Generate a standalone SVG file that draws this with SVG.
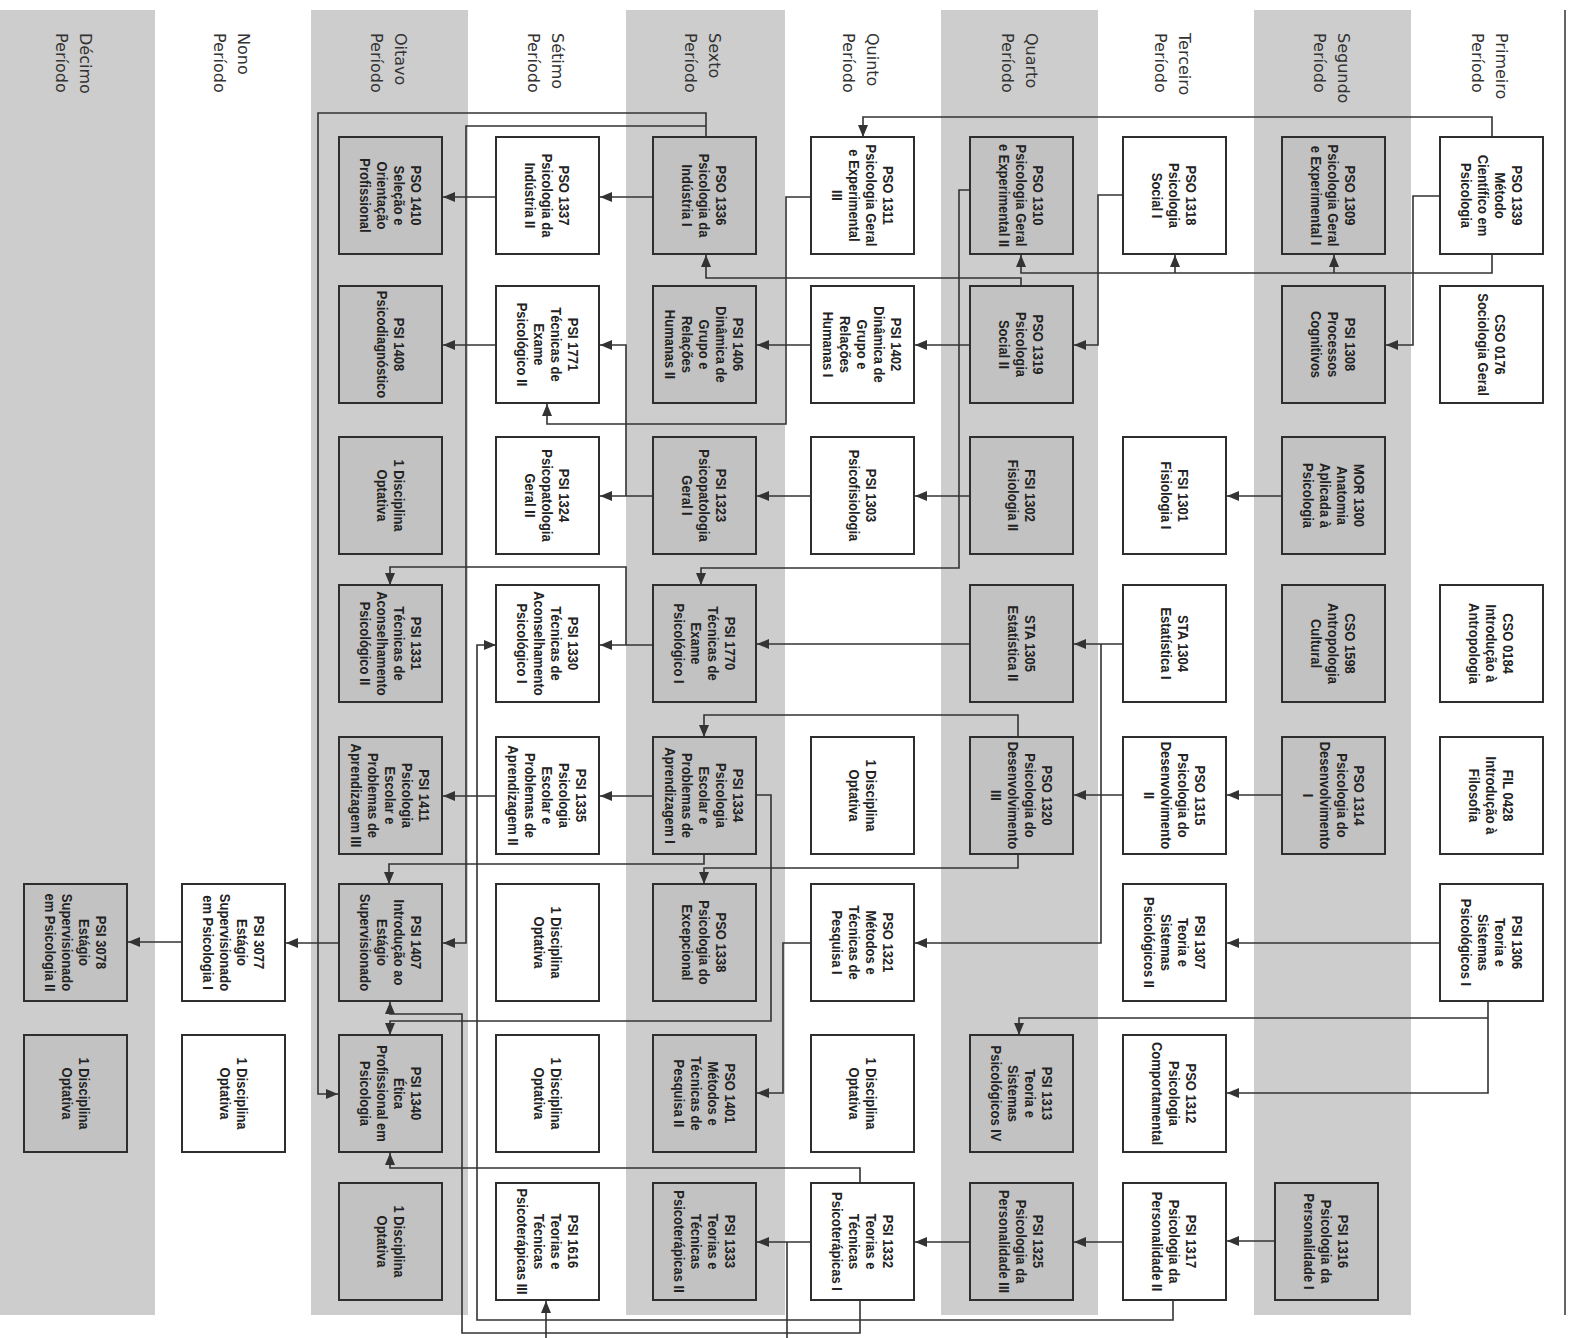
<svg xmlns="http://www.w3.org/2000/svg" width="1576" height="1338" viewBox="0 0 1576 1338">
<style>
.band{fill:#cdcdcd}
.bw{fill:#ffffff;stroke:#2e2e2e;stroke-width:2}
.bg{fill:#c2c2c2;stroke:#2e2e2e;stroke-width:2}
.t{font-family:"Liberation Sans",Arial,sans-serif;font-weight:bold;font-size:15px;fill:#222;text-anchor:middle;dominant-baseline:central}
.h{font-family:"DejaVu Sans","Liberation Sans",sans-serif;font-size:16px;fill:#333;dominant-baseline:central}
.c{fill:none;stroke:#333;stroke-width:1.6}
.a{marker-end:url(#arr)}
</style>
<defs>
<marker id="arr" markerUnits="userSpaceOnUse" markerWidth="12" markerHeight="10" refX="12" refY="5" orient="auto">
<path d="M0,0 L12,5 L0,10 z" fill="#333"/>
</marker>
</defs>
<rect x="0" y="0" width="1576" height="1338" fill="#ffffff"/>
<g id="bands">
<rect class="band" x="1254" y="10" width="157" height="1305"/>
<rect class="band" x="941" y="10" width="157" height="1305"/>
<rect class="band" x="626" y="10" width="159" height="1305"/>
<rect class="band" x="311" y="10" width="157" height="1305"/>
<rect class="band" x="0" y="10" width="155" height="1305"/>
<line x1="1565" y1="10" x2="1565" y2="1315" stroke="#333" stroke-width="1.5"/>
</g>
<g id="headers">
<text class="h" transform="translate(1491.5,33) rotate(90)"><tspan x="0" y="-10">Primeiro</tspan><tspan x="0" y="14">Período</tspan></text>
<text class="h" transform="translate(1333.5,33) rotate(90)"><tspan x="0" y="-10">Segundo</tspan><tspan x="0" y="14">Período</tspan></text>
<text class="h" transform="translate(1174.5,33) rotate(90)"><tspan x="0" y="-10">Terceiro</tspan><tspan x="0" y="14">Período</tspan></text>
<text class="h" transform="translate(1021.5,33) rotate(90)"><tspan x="0" y="-10">Quarto</tspan><tspan x="0" y="14">Período</tspan></text>
<text class="h" transform="translate(862.5,33) rotate(90)"><tspan x="0" y="-10">Quinto</tspan><tspan x="0" y="14">Período</tspan></text>
<text class="h" transform="translate(704.5,33) rotate(90)"><tspan x="0" y="-10">Sexto</tspan><tspan x="0" y="14">Período</tspan></text>
<text class="h" transform="translate(547.5,33) rotate(90)"><tspan x="0" y="-10">Sétimo</tspan><tspan x="0" y="14">Período</tspan></text>
<text class="h" transform="translate(390.5,33) rotate(90)"><tspan x="0" y="-10">Oitavo</tspan><tspan x="0" y="14">Período</tspan></text>
<text class="h" transform="translate(233.5,33) rotate(90)"><tspan x="0" y="-10">Nono</tspan><tspan x="0" y="14">Período</tspan></text>
<text class="h" transform="translate(75.5,33) rotate(90)"><tspan x="0" y="-10">Décimo</tspan><tspan x="0" y="14">Período</tspan></text>
</g>
<g id="connectors">
<path class="c a" d="M1492,137 V117 H863 V137"/>
<path class="c a" d="M1492,254 V273 H1021 V255"/>
<path class="c a" d="M1334,273 V255"/>
<path class="c a" d="M1175,273 V255"/>
<path class="c a" d="M1440,196 H1413 V345 H1386"/>
<path class="c a" d="M1123,195 H1098 V345 H1074"/>
<path class="c a" d="M970,190 H959 V568 H701 V585"/>
<path class="c a" d="M1021,286 V278 H706 V255"/>
<path class="c a" d="M970,345 H915"/>
<path class="c a" d="M811,345 H757"/>
<path class="c a" d="M811,197 H786 V424 H547 V404"/>
<path class="c a" d="M653,197 H600"/>
<path class="c a" d="M496,197 H443"/>
<path class="c a" d="M706,137 V113 H318 V1094 H338"/>
<path class="c a" d="M706,126 H466 V943 H443"/>
<path class="c a" d="M496,345 H443"/>
<path class="c a" d="M1282,496 H1227"/>
<path class="c a" d="M970,496 H915"/>
<path class="c a" d="M811,496 H757"/>
<path class="c a" d="M653,496 H600"/>
<path class="c a" d="M626,496 V345 H600"/>
<path class="c a" d="M1123,644 H1074"/>
<path class="c a" d="M1101,644 V943 H915"/>
<path class="c a" d="M970,644 H757"/>
<path class="c a" d="M653,645 H600"/>
<path class="c a" d="M626,645 V567 H390 V585"/>
<path class="c a" d="M1282,795 H1227"/>
<path class="c a" d="M1123,795 H1074"/>
<path class="c a" d="M1018,737 V715 H704 V737"/>
<path class="c a" d="M1018,854 V868 H704 V884"/>
<path class="c a" d="M653,796 H600"/>
<path class="c a" d="M496,796 H443"/>
<path class="c a" d="M704,854 V864 H389 V884"/>
<path class="c a" d="M757,795 H771 V1021 H390 V1035"/>
<path class="c a" d="M811,943 H783 V1093 H757"/>
<path class="c a" d="M339,943 H286"/>
<path class="c a" d="M182,942 H128"/>
<path class="c a" d="M1440,943 H1227"/>
<path class="c a" d="M1488,1001 V1093 H1227"/>
<path class="c a" d="M1488,1018 H1019 V1035"/>
<path class="c a" d="M1275,1241 H1227"/>
<path class="c a" d="M1123,1242 H1074"/>
<path class="c a" d="M970,1242 H915"/>
<path class="c a" d="M811,1242 H757"/>
<path class="c" d="M787,1242 V1338"/>
<path class="c a" d="M860,1183 V1168 H390 V1153"/>
<path class="c a" d="M860,1300 V1333 H462 V1014 H390 V1002"/>
<path class="c a" d="M1173,1300 V1320 H477 V645 H496"/>
<path class="c a" d="M546,1338 V1301"/>
</g>
<g id="nodes">
<g id="pso1339"><rect class="bw" x="1440" y="137" width="103" height="117"/><text class="t" transform="translate(1491.5,195.5) rotate(90) scale(0.867,1)"><tspan x="0" y="-25.5">PSO 1339</tspan><tspan x="0" y="-8.5">Método</tspan><tspan x="0" y="8.5">Científico em</tspan><tspan x="0" y="25.5">Psicologia</tspan></text></g>
<g id="pso1309"><rect class="bg" x="1282" y="137" width="103" height="117"/><text class="t" transform="translate(1333.5,195.5) rotate(90) scale(0.867,1)"><tspan x="0" y="-17">PSO 1309</tspan><tspan x="0" y="0">Psicologia Geral</tspan><tspan x="0" y="17">e Experimental I</tspan></text></g>
<g id="pso1318"><rect class="bw" x="1123" y="137" width="103" height="117"/><text class="t" transform="translate(1174.5,195.5) rotate(90) scale(0.867,1)"><tspan x="0" y="-17">PSO 1318</tspan><tspan x="0" y="0">Psicologia</tspan><tspan x="0" y="17">Social I</tspan></text></g>
<g id="pso1310"><rect class="bg" x="970" y="137" width="103" height="117"/><text class="t" transform="translate(1021.5,195.5) rotate(90) scale(0.867,1)"><tspan x="0" y="-17">PSO 1310</tspan><tspan x="0" y="0">Psicologia Geral</tspan><tspan x="0" y="17">e Experimental II</tspan></text></g>
<g id="pso1311"><rect class="bw" x="811" y="137" width="103" height="117"/><text class="t" transform="translate(862.5,195.5) rotate(90) scale(0.867,1)"><tspan x="0" y="-25.5">PSO 1311</tspan><tspan x="0" y="-8.5">Psicologia Geral</tspan><tspan x="0" y="8.5">e Experimental</tspan><tspan x="0" y="25.5">III</tspan></text></g>
<g id="pso1336"><rect class="bg" x="653" y="137" width="103" height="117"/><text class="t" transform="translate(704.5,195.5) rotate(90) scale(0.867,1)"><tspan x="0" y="-17">PSO 1336</tspan><tspan x="0" y="0">Psicologia da</tspan><tspan x="0" y="17">Indústria I</tspan></text></g>
<g id="pso1337"><rect class="bw" x="496" y="137" width="103" height="117"/><text class="t" transform="translate(547.5,195.5) rotate(90) scale(0.867,1)"><tspan x="0" y="-17">PSO 1337</tspan><tspan x="0" y="0">Psicologia da</tspan><tspan x="0" y="17">Indústria II</tspan></text></g>
<g id="pso1410"><rect class="bg" x="339" y="137" width="103" height="117"/><text class="t" transform="translate(390.5,195.5) rotate(90) scale(0.867,1)"><tspan x="0" y="-25.5">PSO 1410</tspan><tspan x="0" y="-8.5">Seleção e</tspan><tspan x="0" y="8.5">Orientação</tspan><tspan x="0" y="25.5">Profissional</tspan></text></g>

<g id="cso0176"><rect class="bw" x="1440" y="286" width="103" height="117"/><text class="t" transform="translate(1491.5,344.5) rotate(90) scale(0.867,1)"><tspan x="0" y="-8.5">CSO 0176</tspan><tspan x="0" y="8.5">Sociologia Geral</tspan></text></g>
<g id="psi1308"><rect class="bg" x="1282" y="286" width="103" height="117"/><text class="t" transform="translate(1333.5,344.5) rotate(90) scale(0.867,1)"><tspan x="0" y="-17">PSI 1308</tspan><tspan x="0" y="0">Processos</tspan><tspan x="0" y="17">Cognitivos</tspan></text></g>
<g id="pso1319"><rect class="bg" x="970" y="286" width="103" height="117"/><text class="t" transform="translate(1021.5,344.5) rotate(90) scale(0.867,1)"><tspan x="0" y="-17">PSO 1319</tspan><tspan x="0" y="0">Psicologia</tspan><tspan x="0" y="17">Social II</tspan></text></g>
<g id="psi1402"><rect class="bw" x="811" y="286" width="103" height="117"/><text class="t" transform="translate(862.5,344.5) rotate(90) scale(0.867,1)"><tspan x="0" y="-34">PSI 1402</tspan><tspan x="0" y="-17">Dinâmica de</tspan><tspan x="0" y="0">Grupo e</tspan><tspan x="0" y="17">Relações</tspan><tspan x="0" y="34">Humanas I</tspan></text></g>
<g id="psi1406"><rect class="bg" x="653" y="286" width="103" height="117"/><text class="t" transform="translate(704.5,344.5) rotate(90) scale(0.867,1)"><tspan x="0" y="-34">PSI 1406</tspan><tspan x="0" y="-17">Dinâmica de</tspan><tspan x="0" y="0">Grupo e</tspan><tspan x="0" y="17">Relações</tspan><tspan x="0" y="34">Humanas II</tspan></text></g>
<g id="psi1771"><rect class="bw" x="496" y="286" width="103" height="117"/><text class="t" transform="translate(547.5,344.5) rotate(90) scale(0.867,1)"><tspan x="0" y="-25.5">PSI 1771</tspan><tspan x="0" y="-8.5">Técnicas de</tspan><tspan x="0" y="8.5">Exame</tspan><tspan x="0" y="25.5">Psicológico  II</tspan></text></g>
<g id="psi1408"><rect class="bg" x="339" y="286" width="103" height="117"/><text class="t" transform="translate(390.5,344.5) rotate(90) scale(0.867,1)"><tspan x="0" y="-8.5">PSI 1408</tspan><tspan x="0" y="8.5">Psicodiagnóstico</tspan></text></g>

<g id="mor1300"><rect class="bg" x="1282" y="437" width="103" height="117"/><text class="t" transform="translate(1333.5,495.5) rotate(90) scale(0.867,1)"><tspan x="0" y="-25.5">MOR 1300</tspan><tspan x="0" y="-8.5">Anatomia</tspan><tspan x="0" y="8.5">Aplicada à</tspan><tspan x="0" y="25.5">Psicologia</tspan></text></g>
<g id="fsi1301"><rect class="bw" x="1123" y="437" width="103" height="117"/><text class="t" transform="translate(1174.5,495.5) rotate(90) scale(0.867,1)"><tspan x="0" y="-8.5">FSI 1301</tspan><tspan x="0" y="8.5">Fisiologia I</tspan></text></g>
<g id="fsi1302"><rect class="bg" x="970" y="437" width="103" height="117"/><text class="t" transform="translate(1021.5,495.5) rotate(90) scale(0.867,1)"><tspan x="0" y="-8.5">FSI 1302</tspan><tspan x="0" y="8.5">Fisiologia II</tspan></text></g>
<g id="psi1303"><rect class="bw" x="811" y="437" width="103" height="117"/><text class="t" transform="translate(862.5,495.5) rotate(90) scale(0.867,1)"><tspan x="0" y="-8.5">PSI 1303</tspan><tspan x="0" y="8.5">Psicofisiologia</tspan></text></g>
<g id="psi1323"><rect class="bg" x="653" y="437" width="103" height="117"/><text class="t" transform="translate(704.5,495.5) rotate(90) scale(0.867,1)"><tspan x="0" y="-17">PSI 1323</tspan><tspan x="0" y="0">Psicopatologia</tspan><tspan x="0" y="17">Geral I</tspan></text></g>
<g id="psi1324"><rect class="bw" x="496" y="437" width="103" height="117"/><text class="t" transform="translate(547.5,495.5) rotate(90) scale(0.867,1)"><tspan x="0" y="-17">PSI 1324</tspan><tspan x="0" y="0">Psicopatologia</tspan><tspan x="0" y="17">Geral II</tspan></text></g>
<g id="opt8r3"><rect class="bg" x="339" y="437" width="103" height="117"/><text class="t" transform="translate(390.5,495.5) rotate(90) scale(0.867,1)"><tspan x="0" y="-8.5">1 Disciplina</tspan><tspan x="0" y="8.5">Optativa</tspan></text></g>

<g id="cso0184"><rect class="bw" x="1440" y="585" width="103" height="117"/><text class="t" transform="translate(1491.5,643.5) rotate(90) scale(0.867,1)"><tspan x="0" y="-17">CSO 0184</tspan><tspan x="0" y="0">Introdução à</tspan><tspan x="0" y="17">Antropologia</tspan></text></g>
<g id="cso1598"><rect class="bg" x="1282" y="585" width="103" height="117"/><text class="t" transform="translate(1333.5,643.5) rotate(90) scale(0.867,1)"><tspan x="0" y="-17">CSO 1598</tspan><tspan x="0" y="0">Antropologia</tspan><tspan x="0" y="17">Cultural</tspan></text></g>
<g id="sta1304"><rect class="bw" x="1123" y="585" width="103" height="117"/><text class="t" transform="translate(1174.5,643.5) rotate(90) scale(0.867,1)"><tspan x="0" y="-8.5">STA 1304</tspan><tspan x="0" y="8.5">Estatística I</tspan></text></g>
<g id="sta1305"><rect class="bg" x="970" y="585" width="103" height="117"/><text class="t" transform="translate(1021.5,643.5) rotate(90) scale(0.867,1)"><tspan x="0" y="-8.5">STA 1305</tspan><tspan x="0" y="8.5">Estatística II</tspan></text></g>
<g id="psi1770"><rect class="bg" x="653" y="585" width="103" height="117"/><text class="t" transform="translate(704.5,643.5) rotate(90) scale(0.867,1)"><tspan x="0" y="-25.5">PSI 1770</tspan><tspan x="0" y="-8.5">Técnicas de</tspan><tspan x="0" y="8.5">Exame</tspan><tspan x="0" y="25.5">Psicológico I</tspan></text></g>
<g id="psi1330"><rect class="bw" x="496" y="585" width="103" height="117"/><text class="t" transform="translate(547.5,643.5) rotate(90) scale(0.867,1)"><tspan x="0" y="-25.5">PSI 1330</tspan><tspan x="0" y="-8.5">Técnicas de</tspan><tspan x="0" y="8.5">Aconselhamento</tspan><tspan x="0" y="25.5">Psicológico I</tspan></text></g>
<g id="psi1331"><rect class="bg" x="339" y="585" width="103" height="117"/><text class="t" transform="translate(390.5,643.5) rotate(90) scale(0.867,1)"><tspan x="0" y="-25.5">PSI 1331</tspan><tspan x="0" y="-8.5">Técnicas de</tspan><tspan x="0" y="8.5">Aconselhamento</tspan><tspan x="0" y="25.5">Psicológico II</tspan></text></g>

<g id="fil0428"><rect class="bw" x="1440" y="737" width="103" height="117"/><text class="t" transform="translate(1491.5,795.5) rotate(90) scale(0.867,1)"><tspan x="0" y="-17">FIL 0428</tspan><tspan x="0" y="0">Introdução à</tspan><tspan x="0" y="17">Filosofia</tspan></text></g>
<g id="pso1314"><rect class="bg" x="1282" y="737" width="103" height="117"/><text class="t" transform="translate(1333.5,795.5) rotate(90) scale(0.867,1)"><tspan x="0" y="-25.5">PSO 1314</tspan><tspan x="0" y="-8.5">Psicologia do</tspan><tspan x="0" y="8.5">Desenvolvimento</tspan><tspan x="0" y="25.5">I</tspan></text></g>
<g id="pso1315"><rect class="bw" x="1123" y="737" width="103" height="117"/><text class="t" transform="translate(1174.5,795.5) rotate(90) scale(0.867,1)"><tspan x="0" y="-25.5">PSO 1315</tspan><tspan x="0" y="-8.5">Psicologia do</tspan><tspan x="0" y="8.5">Desenvolvimento</tspan><tspan x="0" y="25.5">II</tspan></text></g>
<g id="pso1320"><rect class="bg" x="970" y="737" width="103" height="117"/><text class="t" transform="translate(1021.5,795.5) rotate(90) scale(0.867,1)"><tspan x="0" y="-25.5">PSO 1320</tspan><tspan x="0" y="-8.5">Psicologia do</tspan><tspan x="0" y="8.5">Desenvolvimento</tspan><tspan x="0" y="25.5">III</tspan></text></g>
<g id="opt5r5"><rect class="bw" x="811" y="737" width="103" height="117"/><text class="t" transform="translate(862.5,795.5) rotate(90) scale(0.867,1)"><tspan x="0" y="-8.5">1 Disciplina</tspan><tspan x="0" y="8.5">Optativa</tspan></text></g>
<g id="psi1334"><rect class="bg" x="653" y="737" width="103" height="117"/><text class="t" transform="translate(704.5,795.5) rotate(90) scale(0.867,1)"><tspan x="0" y="-34">PSI 1334</tspan><tspan x="0" y="-17">Psicologia</tspan><tspan x="0" y="0">Escolar e</tspan><tspan x="0" y="17">Problemas de</tspan><tspan x="0" y="34">Aprendizagem I</tspan></text></g>
<g id="psi1335"><rect class="bw" x="496" y="737" width="103" height="117"/><text class="t" transform="translate(547.5,795.5) rotate(90) scale(0.867,1)"><tspan x="0" y="-34">PSI 1335</tspan><tspan x="0" y="-17">Psicologia</tspan><tspan x="0" y="0">Escolar e</tspan><tspan x="0" y="17">Problemas de</tspan><tspan x="0" y="34">Aprendizagem II</tspan></text></g>
<g id="psi1411"><rect class="bg" x="339" y="737" width="103" height="117"/><text class="t" transform="translate(390.5,795.5) rotate(90) scale(0.867,1)"><tspan x="0" y="-34">PSI 1411</tspan><tspan x="0" y="-17">Psicologia</tspan><tspan x="0" y="0">Escolar e</tspan><tspan x="0" y="17">Problemas de</tspan><tspan x="0" y="34">Aprendizagem III</tspan></text></g>

<g id="psi1306"><rect class="bw" x="1440" y="884" width="103" height="117"/><text class="t" transform="translate(1491.5,942.5) rotate(90) scale(0.867,1)"><tspan x="0" y="-25.5">PSI 1306</tspan><tspan x="0" y="-8.5">Teoria e</tspan><tspan x="0" y="8.5">Sistemas</tspan><tspan x="0" y="25.5">Psicológicos I</tspan></text></g>
<g id="psi1307"><rect class="bw" x="1123" y="884" width="103" height="117"/><text class="t" transform="translate(1174.5,942.5) rotate(90) scale(0.867,1)"><tspan x="0" y="-25.5">PSI 1307</tspan><tspan x="0" y="-8.5">Teoria e</tspan><tspan x="0" y="8.5">Sistemas</tspan><tspan x="0" y="25.5">Psicológicos II</tspan></text></g>
<g id="pso1321"><rect class="bw" x="811" y="884" width="103" height="117"/><text class="t" transform="translate(862.5,942.5) rotate(90) scale(0.867,1)"><tspan x="0" y="-25.5">PSO 1321</tspan><tspan x="0" y="-8.5">Métodos e</tspan><tspan x="0" y="8.5">Técnicas de</tspan><tspan x="0" y="25.5">Pesquisa I</tspan></text></g>
<g id="pso1338"><rect class="bg" x="653" y="884" width="103" height="117"/><text class="t" transform="translate(704.5,942.5) rotate(90) scale(0.867,1)"><tspan x="0" y="-17">PSO 1338</tspan><tspan x="0" y="0">Psicologia do</tspan><tspan x="0" y="17">Excepcional</tspan></text></g>
<g id="opt7r6"><rect class="bw" x="496" y="884" width="103" height="117"/><text class="t" transform="translate(547.5,942.5) rotate(90) scale(0.867,1)"><tspan x="0" y="-8.5">1 Disciplina</tspan><tspan x="0" y="8.5">Optativa</tspan></text></g>
<g id="psi1407"><rect class="bg" x="339" y="884" width="103" height="117"/><text class="t" transform="translate(390.5,942.5) rotate(90) scale(0.867,1)"><tspan x="0" y="-25.5">PSI 1407</tspan><tspan x="0" y="-8.5">Introdução ao</tspan><tspan x="0" y="8.5">Estágio</tspan><tspan x="0" y="25.5">Supervisionado</tspan></text></g>
<g id="psi3077"><rect class="bw" x="182" y="884" width="103" height="117"/><text class="t" transform="translate(233.5,942.5) rotate(90) scale(0.867,1)"><tspan x="0" y="-25.5">PSI 3077</tspan><tspan x="0" y="-8.5">Estágio</tspan><tspan x="0" y="8.5">Supervisionado</tspan><tspan x="0" y="25.5">em Psicologia I</tspan></text></g>
<g id="psi3078"><rect class="bg" x="24" y="884" width="103" height="117"/><text class="t" transform="translate(75.5,942.5) rotate(90) scale(0.867,1)"><tspan x="0" y="-25.5">PSI 3078</tspan><tspan x="0" y="-8.5">Estágio</tspan><tspan x="0" y="8.5">Supervisionado</tspan><tspan x="0" y="25.5">em Psicologia II</tspan></text></g>

<g id="pso1312"><rect class="bw" x="1123" y="1035" width="103" height="117"/><text class="t" transform="translate(1174.5,1093.5) rotate(90) scale(0.867,1)"><tspan x="0" y="-17">PSO 1312</tspan><tspan x="0" y="0">Psicologia</tspan><tspan x="0" y="17">Comportamental</tspan></text></g>
<g id="psi1313"><rect class="bg" x="970" y="1035" width="103" height="117"/><text class="t" transform="translate(1021.5,1093.5) rotate(90) scale(0.867,1)"><tspan x="0" y="-25.5">PSI 1313</tspan><tspan x="0" y="-8.5">Teoria e</tspan><tspan x="0" y="8.5">Sistemas</tspan><tspan x="0" y="25.5">Psicológicos IV</tspan></text></g>
<g id="opt5r7"><rect class="bw" x="811" y="1035" width="103" height="117"/><text class="t" transform="translate(862.5,1093.5) rotate(90) scale(0.867,1)"><tspan x="0" y="-8.5">1 Disciplina</tspan><tspan x="0" y="8.5">Optativa</tspan></text></g>
<g id="pso1401"><rect class="bg" x="653" y="1035" width="103" height="117"/><text class="t" transform="translate(704.5,1093.5) rotate(90) scale(0.867,1)"><tspan x="0" y="-25.5">PSO 1401</tspan><tspan x="0" y="-8.5">Métodos e</tspan><tspan x="0" y="8.5">Técnicas de</tspan><tspan x="0" y="25.5">Pesquisa II</tspan></text></g>
<g id="opt7r7"><rect class="bw" x="496" y="1035" width="103" height="117"/><text class="t" transform="translate(547.5,1093.5) rotate(90) scale(0.867,1)"><tspan x="0" y="-8.5">1 Disciplina</tspan><tspan x="0" y="8.5">Optativa</tspan></text></g>
<g id="psi1340"><rect class="bg" x="339" y="1035" width="103" height="117"/><text class="t" transform="translate(390.5,1093.5) rotate(90) scale(0.867,1)"><tspan x="0" y="-25.5">PSI 1340</tspan><tspan x="0" y="-8.5">Ética</tspan><tspan x="0" y="8.5">Profissional em</tspan><tspan x="0" y="25.5">Psicologia</tspan></text></g>
<g id="opt9r7"><rect class="bw" x="182" y="1035" width="103" height="117"/><text class="t" transform="translate(233.5,1093.5) rotate(90) scale(0.867,1)"><tspan x="0" y="-8.5">1 Disciplina</tspan><tspan x="0" y="8.5">Optativa</tspan></text></g>
<g id="opt10r7"><rect class="bg" x="24" y="1035" width="103" height="117"/><text class="t" transform="translate(75.5,1093.5) rotate(90) scale(0.867,1)"><tspan x="0" y="-8.5">1 Disciplina</tspan><tspan x="0" y="8.5">Optativa</tspan></text></g>

<g id="psi1316"><rect class="bg" x="1275" y="1183" width="103" height="117"/><text class="t" transform="translate(1326.5,1241.5) rotate(90) scale(0.867,1)"><tspan x="0" y="-17">PSI 1316</tspan><tspan x="0" y="0">Psicologia da</tspan><tspan x="0" y="17">Personalidade I</tspan></text></g>
<g id="psi1317"><rect class="bw" x="1123" y="1183" width="103" height="117"/><text class="t" transform="translate(1174.5,1241.5) rotate(90) scale(0.867,1)"><tspan x="0" y="-17">PSI 1317</tspan><tspan x="0" y="0">Psicologia da</tspan><tspan x="0" y="17">Personalidade II</tspan></text></g>
<g id="psi1325"><rect class="bg" x="970" y="1183" width="103" height="117"/><text class="t" transform="translate(1021.5,1241.5) rotate(90) scale(0.867,1)"><tspan x="0" y="-17">PSI 1325</tspan><tspan x="0" y="0">Psicologia da</tspan><tspan x="0" y="17">Personalidade III</tspan></text></g>
<g id="psi1332"><rect class="bw" x="811" y="1183" width="103" height="117"/><text class="t" transform="translate(862.5,1241.5) rotate(90) scale(0.867,1)"><tspan x="0" y="-25.5">PSI 1332</tspan><tspan x="0" y="-8.5">Teorias e</tspan><tspan x="0" y="8.5">Técnicas</tspan><tspan x="0" y="25.5">Psicoterápicas I</tspan></text></g>
<g id="psi1333"><rect class="bg" x="653" y="1183" width="103" height="117"/><text class="t" transform="translate(704.5,1241.5) rotate(90) scale(0.867,1)"><tspan x="0" y="-25.5">PSI 1333</tspan><tspan x="0" y="-8.5">Teorias e</tspan><tspan x="0" y="8.5">Técnicas</tspan><tspan x="0" y="25.5">Psicoterápicas II</tspan></text></g>
<g id="psi1616"><rect class="bw" x="496" y="1183" width="103" height="117"/><text class="t" transform="translate(547.5,1241.5) rotate(90) scale(0.867,1)"><tspan x="0" y="-25.5">PSI 1616</tspan><tspan x="0" y="-8.5">Teorias e</tspan><tspan x="0" y="8.5">Técnicas</tspan><tspan x="0" y="25.5">Psicoterápicas III</tspan></text></g>
<g id="opt8r8"><rect class="bg" x="339" y="1183" width="103" height="117"/><text class="t" transform="translate(390.5,1241.5) rotate(90) scale(0.867,1)"><tspan x="0" y="-8.5">1 Disciplina</tspan><tspan x="0" y="8.5">Optativa</tspan></text></g>
</g>
</svg>
